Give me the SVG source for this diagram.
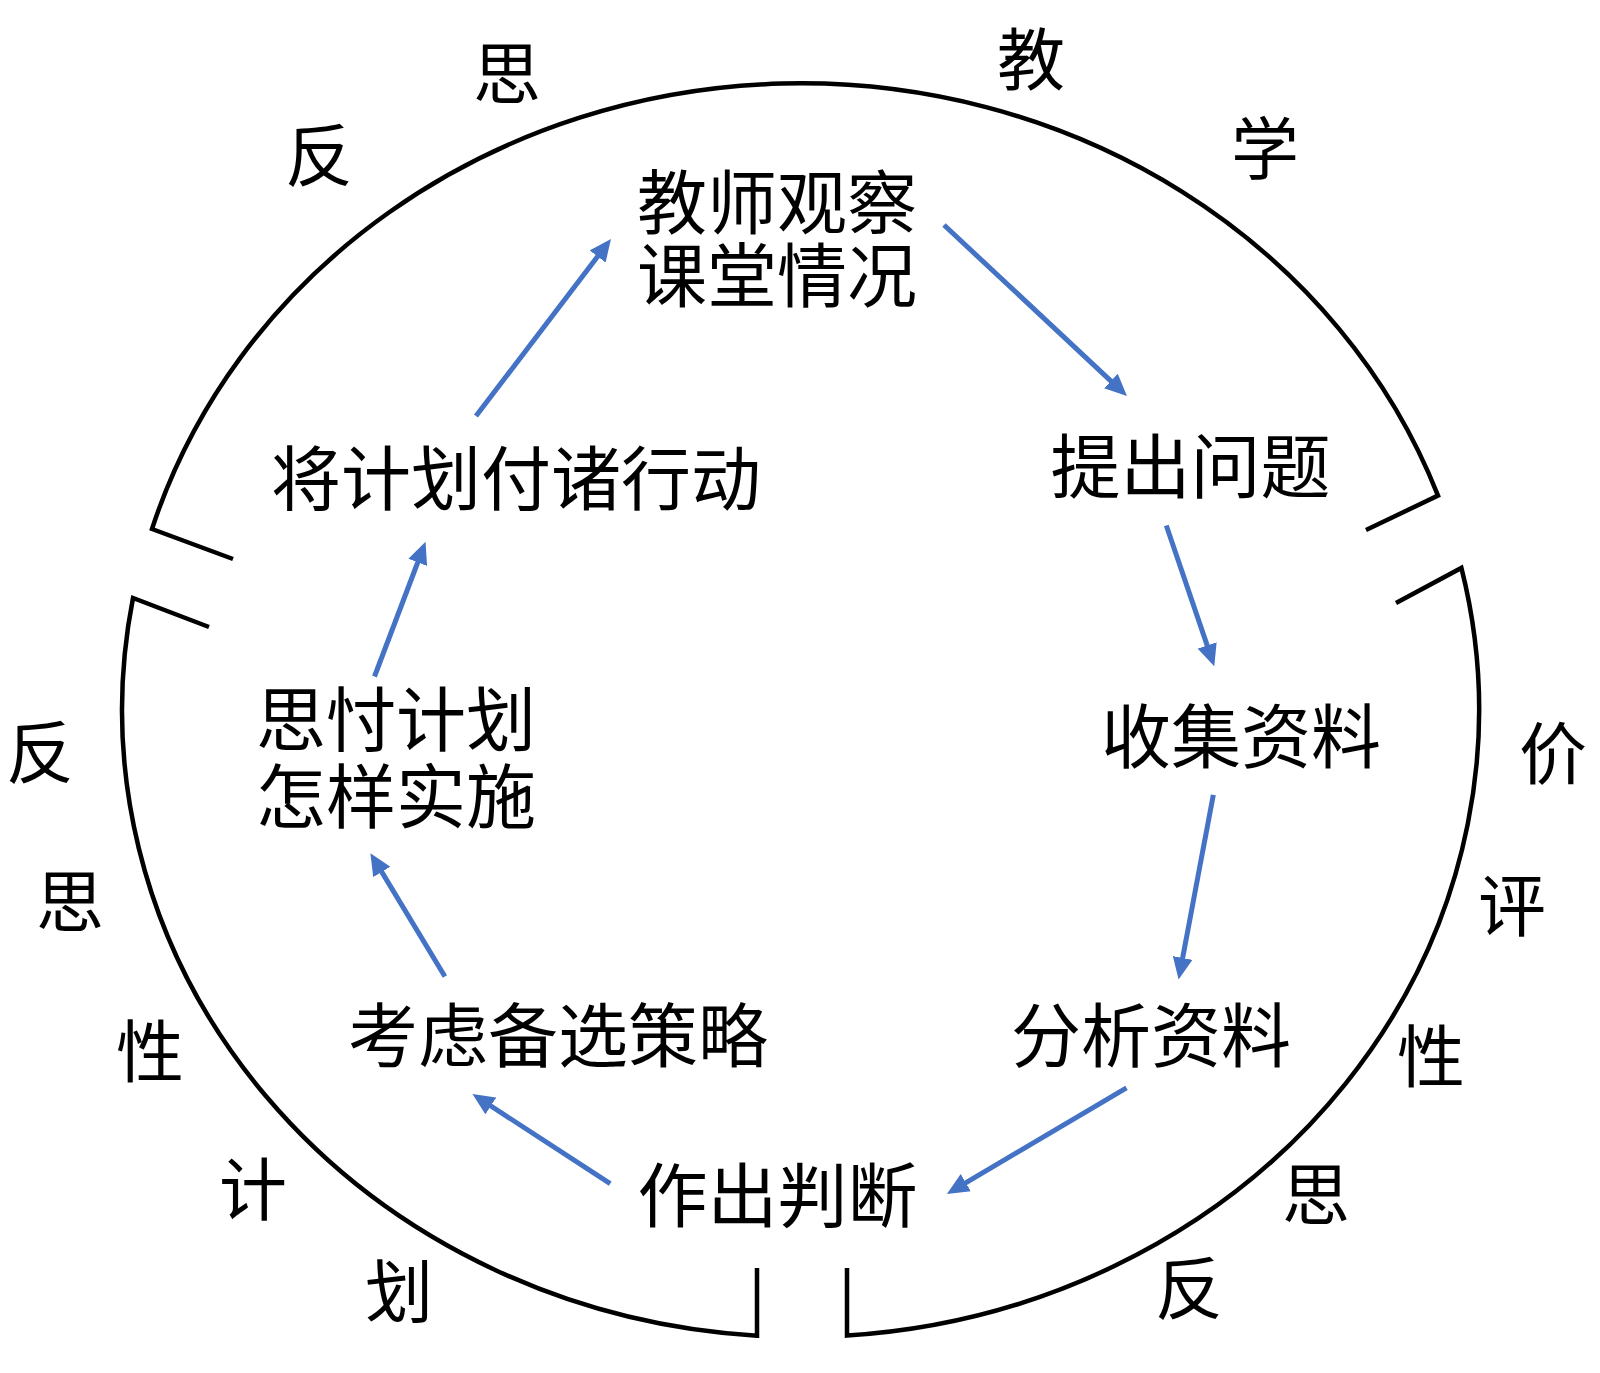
<svg xmlns="http://www.w3.org/2000/svg" width="1600" height="1373" viewBox="0 0 1600 1373">
<style>
.t{font-family:"Noto Sans CJK SC","Noto Sans",sans-serif;font-size:70px;fill:#000;text-anchor:middle}
.o{font-family:"Noto Sans CJK SC","Noto Sans",sans-serif;font-size:68px;fill:#000;text-anchor:middle}
.arc{fill:none;stroke:#000;stroke-width:4.5;stroke-linejoin:miter}
.c{fill:none;stroke:#4472C4;stroke-width:5;marker-end:url(#ah)}
</style>
<defs>
<marker id="ah" markerUnits="userSpaceOnUse" markerWidth="22" markerHeight="20" refX="10" refY="10" orient="auto" viewBox="0 0 22 20">
<path d="M0,0 L22,10 L0,20 z" fill="#4472C4"/>
</marker>
</defs>
<rect width="1600" height="1373" fill="#fff"/>
<g id="cycle">
<path class="arc" d="M233,559 L152,529 A678,627 0 0 1 1438,495.6 L1366,530"/>
<path class="arc" d="M1396,603 L1461.4,567.9 A678,627 0 0 1 847,1335.6 L847,1268"/>
<path class="arc" d="M757,1268 L757,1335.7 A678,627 0 0 1 133,598 L209,627"/>
</g>
<g id="connectors">
<line class="c" x1="476" y1="416" x2="603.7" y2="248.5"/>
<line class="c" x1="944" y1="225" x2="1118.2" y2="387.8"/>
<line class="c" x1="1166.3" y1="525.5" x2="1210.4" y2="654.9"/>
<line class="c" x1="1213.3" y1="794.9" x2="1180.8" y2="967.8"/>
<line class="c" x1="1126.5" y1="1087.8" x2="957.2" y2="1187.8"/>
<line class="c" x1="610.2" y1="1183.7" x2="482.5" y2="1100.5"/>
<line class="c" x1="444.9" y1="976.5" x2="376.6" y2="863.4"/>
<line class="c" x1="374.5" y1="676.5" x2="421.3" y2="553"/>
</g>
<g id="n1"><text class="t" x="777" y="228.6">教师观察</text><text class="t" x="777" y="301.6">课堂情况</text></g>
<g id="n2"><text class="t" x="1190.5" y="493">提出问题</text></g>
<g id="n3"><text class="t" x="1241" y="762.6">收集资料</text></g>
<g id="n4"><text class="t" x="1151" y="1061.6">分析资料</text></g>
<g id="n5"><text class="t" x="777.6" y="1221.6">作出判断</text></g>
<g id="n6"><text class="t" x="558" y="1061.6">考虑备选策略</text></g>
<g id="n7"><text class="t" x="396" y="745.6">思忖计划</text><text class="t" x="396" y="822.6">怎样实施</text></g>
<g id="n8"><text class="t" x="516" y="504.6">将计划付诸行动</text></g>
<g id="labels">
<text class="o" x="319" y="180.8">反</text>
<text class="o" x="507" y="99.3">思</text>
<text class="o" x="1031" y="84.8">教</text>
<text class="o" x="1265" y="173.8">学</text>
<text class="o" x="1553" y="778.8">价</text>
<text class="o" x="1512" y="930.8">评</text>
<text class="o" x="1431" y="1081.8">性</text>
<text class="o" x="1316" y="1219.8">思</text>
<text class="o" x="1189" y="1313.8">反</text>
<text class="o" x="40" y="777.8">反</text>
<text class="o" x="70" y="927.3">思</text>
<text class="o" x="150" y="1076.8">性</text>
<text class="o" x="253" y="1214.8">计</text>
<text class="o" x="399" y="1316.8">划</text>
</g>
</svg>
